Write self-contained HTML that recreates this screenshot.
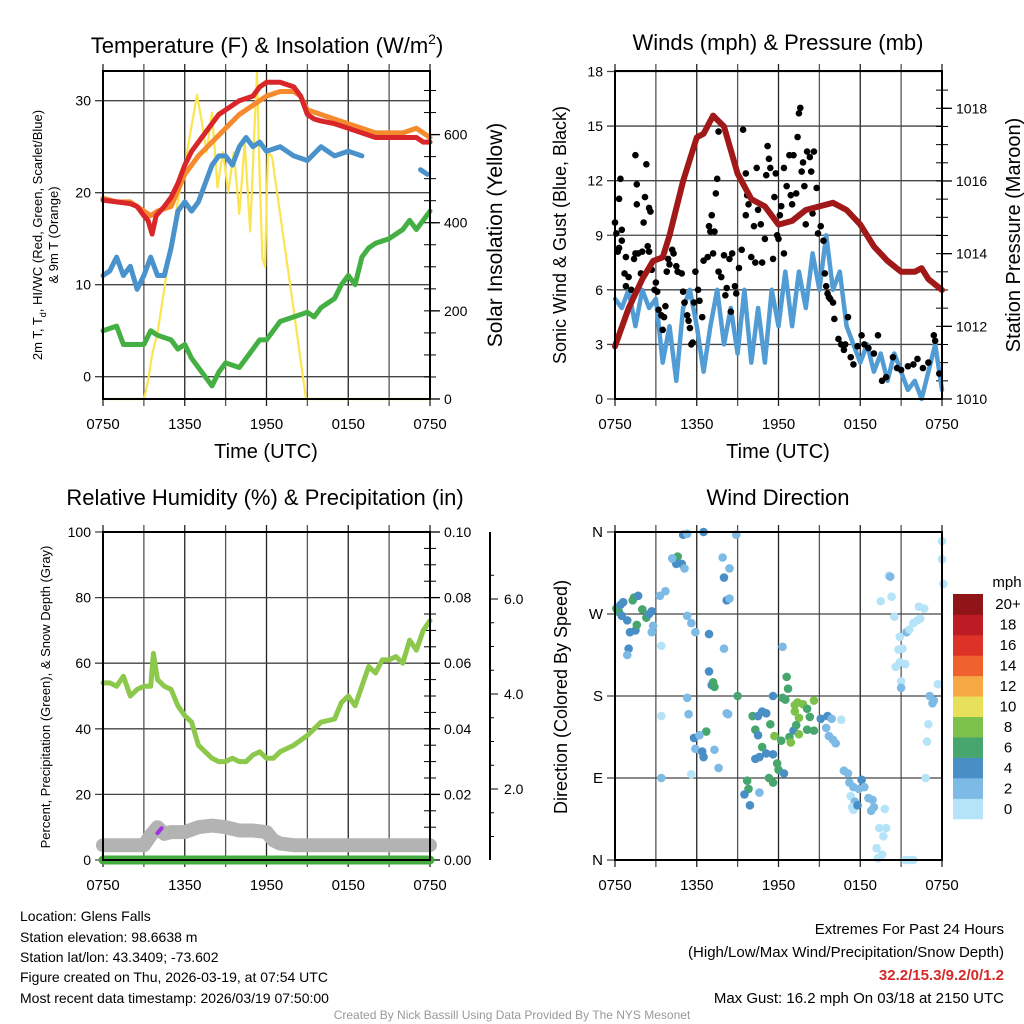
<!DOCTYPE html>
<html><head><meta charset="utf-8"><style>
html,body{margin:0;padding:0;background:#fff}
svg{display:block;font-family:"Liberation Sans",sans-serif}
</style></head><body>
<svg id="fig" width="1024" height="1024" viewBox="0 0 1024 1024" xmlns="http://www.w3.org/2000/svg">
<rect width="1024" height="1024" fill="#fff"/>
<g id="layer"></g>
<g font-size="22" text-anchor="middle" fill="#000">
<text x="267" y="53">Temperature (F) &amp; Insolation (W/m<tspan dy="-9" font-size="14">2</tspan><tspan dy="9">)</tspan></text>
<text x="778" y="50">Winds (mph) &amp; Pressure (mb)</text>
<text x="265" y="505">Relative Humidity (%) &amp; Precipitation (in)</text>
<text x="778" y="505">Wind Direction</text>
</g>
<g font-size="20" text-anchor="middle">
<text x="266" y="458">Time (UTC)</text>
<text x="778" y="458">Time (UTC)</text>
</g>
<g text-anchor="middle">
<text transform="translate(42,235) rotate(-90)" font-size="13">2m T, T<tspan dy="4" font-size="9">d</tspan><tspan dy="-4">, HI/WC (Red, Green, Scarlet/Blue)</tspan></text>
<text transform="translate(58,235) rotate(-90)" font-size="13">&amp; 9m T (Orange)</text>
<text transform="translate(502,235) rotate(-90)" font-size="21">Solar Insolation (Yellow)</text>
<text transform="translate(566,235) rotate(-90)" font-size="18">Sonic Wind &amp; Gust (Blue, Black)</text>
<text transform="translate(1020,235) rotate(-90)" font-size="20">Station Pressure (Maroon)</text>
<text transform="translate(50,697) rotate(-90)" font-size="13">Percent, Precipitation (Green), &amp; Snow Depth (Gray)</text>
<text transform="translate(567,697) rotate(-90)" font-size="18">Direction (Colored By Speed)</text>
</g>
<g font-size="14">
<text x="20" y="921">Location: Glens Falls</text>
<text x="20" y="942">Station elevation: 98.6638 m</text>
<text x="20" y="962">Station lat/lon: 43.3409; -73.602</text>
<text x="20" y="982">Figure created on Thu, 2026-03-19, at 07:54 UTC</text>
<text x="20" y="1003">Most recent data timestamp: 2026/03/19 07:50:00</text>
</g>
<g font-size="15" text-anchor="end">
<text x="1004" y="934">Extremes For Past 24 Hours</text>
<text x="1004" y="957">(High/Low/Max Wind/Precipitation/Snow Depth)</text>
<text x="1004" y="980" fill="#d42a2a" font-weight="bold">32.2/15.3/9.2/0/1.2</text>
<text x="1004" y="1003">Max Gust: 16.2 mph On 03/18 at 2150 UTC</text>
</g>
<text x="512" y="1019" font-size="12" fill="#999" text-anchor="middle">Created By Nick Bassill Using Data Provided By The NYS Mesonet</text>
</svg>
<script>
// ---------- data ----------
const xTickLabels = ["0750","1350","1950","0150","0750"];
const tempTicks = [0,10,20,30];
const solarTicks = [0,200,400,600];
const windTicks = [0,3,6,9,12,15,18];
const presTicks = [1010,1012,1014,1016,1018];
const rhTicks = [0,20,40,60,80,100];
const precipTicks = ["0.00","0.02","0.04","0.06","0.08","0.10"];
const snowTicks = ["2.0","4.0","6.0"];
const dirTicks = ["N","E","S","W","N"];
const cbLabels = ["0","2","4","6","8","10","12","14","16","18","20+"];

const redT = [0,1,2,2.5,3,3.3,3.6,3.9,4.5,5,5.5,6,6.5,7,7.5,8,8.5,9,10,11,11.5,12,13,14,14.5,15,15.5,16,17,18,19,20,21,22,23,23.5,24];
const redV = [19.2,19,18.8,18.5,17.5,17,15.5,17.5,18.5,19.5,21,23,24.5,25.5,26.5,27.5,28.5,29,30,30.5,31.5,32,32,31.5,30.5,28.5,28,27.8,27.5,27,26.5,26,26,26,26,25.5,25.5];
const orangeT = [0,1,2,3,3.5,4,5,6,7,8,9,10,11,12,13,14,14.5,15,16,17,18,19,20,21,22,23,24];
const orangeV = [19.4,19,19,18,17.5,18,18.5,22,24,25.5,27,28.5,29.5,30.5,31,31,30.5,29,28.5,28,27.5,27,26.5,26.5,26.5,27,26];
const blueT = [0,0.5,1,1.5,2,2.5,3,3.5,4,4.5,5,5.5,6,6.5,7,7.5,8,8.5,9,9.5,10,10.5,11,11.5,12,13,14,15,16,17,18,19,null,23.3,23.8];
const blueV = [11,11.5,13,11,12,9.5,11,13,11,11,14,18,19,18,19,21,23,24,24,23,25,26,25,25.5,24.5,25,24,23.5,25,24,24.5,24,null,22.5,22];
const dewT = [0,1,1.5,2,3,3.5,4,5,5.5,6,6.5,7,7.5,8,8.5,9,10,11,11.5,12,12.5,13,14,15,15.5,16,17,17.5,18,18.5,19,19.5,20,21,22,22.5,23,24];
const dewV = [5,5.5,3.5,3.5,3.5,5,4.5,4,3,3.5,2,1,0,-1,0.5,1.5,1,3,4,4,5,6,6.5,7,6.5,7.5,8.5,10,11,10,13,14,14.5,15,16,17,16,18];
const solarT = [0,3,3.3,3.6,4,4.5,5,5.5,6,6.5,6.9,7.3,7.6,8,8.4,8.8,9.2,9.6,10,10.4,10.8,11.1,11.3,11.5,11.7,11.9,12.1,12.4,13,14,14.9,24];
const solarV = [0,0,40,100,150,250,350,450,530,620,690,620,560,650,480,560,470,560,420,580,380,600,740,500,320,300,560,550,420,200,0,0];

const gustPts = [[0,9.7],[0.1,9.1],[0.2,8.1],[0.3,8.3],[0.3,11],[0.4,12.1],[0.5,8.7],[0.5,9.3],[0.7,6.9],[0.8,7.8],[0.8,6.2],[1.0,6.7],[1.2,6.0],[1.4,7.7],[1.5,8],[1.5,13.4],[1.6,11.8],[1.6,10.7],[1.7,8],[1.9,6.9],[2.0,8.1],[2.1,9.7],[2.2,11.1],[2.3,12.9],[2.4,8.4],[2.5,8.1],[2.5,10.5],[2.6,10.3],[2.7,7.1],[2.9,6],[3.0,6.4],[3.1,5.9],[3.2,4.9],[3.4,4.6],[3.5,3.8],[3.6,4.5],[3.7,5.1],[3.8,7],[3.9,7.7],[4.0,7.4],[4.2,8.2],[4.3,8],[4.5,7.3],[4.6,7],[4.9,6.9],[5.0,5.9],[5.1,5.3],[5.3,4.6],[5.4,4.3],[5.5,3.9],[5.6,3],[5.7,3.1],[5.8,5.3],[5.9,7],[6.1,6],[6.2,5.4],[6.4,4.5],[6.5,7.6],[6.8,7.8],[6.9,9.5],[7.0,9.2],[7.1,10.1],[7.2,8],[7.3,9.2],[7.4,11.3],[7.5,12.1],[7.6,14.7],[7.6,7],[7.8,6.7],[8.0,7.9],[8.1,5.7],[8.2,6.1],[8.4,7.7],[8.5,4.8],[8.6,8],[8.8,6.2],[8.9,5.8],[9.1,7.2],[9.3,8.2],[9.4,14.8],[9.6,12.4],[9.6,10.1],[9.7,11.2],[9.8,10.7],[10.0,7.8],[10.2,9.5],[10.3,7.5],[10.4,12.7],[10.5,10.4],[10.7,9.6],[10.8,7.5],[11.0,8.8],[11.1,12.3],[11.2,13.9],[11.3,13.2],[11.4,12.7],[11.6,7.7],[11.7,11.1],[11.8,12.4],[11.9,9],[12.0,8.8],[12.1,10.1],[12.2,10.6],[12.4,12.7],[12.4,8],[12.6,11.7],[12.8,13.4],[12.9,11.2],[13.0,10.7],[13.1,13.4],[13.3,11.3],[13.4,14.4],[13.5,15.7],[13.6,16],[13.7,12.5],[13.8,13],[13.9,11.7],[14.0,9.6],[14.1,13.6],[14.3,13.3],[14.4,12.5],[14.5,10.2],[14.6,13.6],[14.8,11.6],[14.9,9.1],[15.1,9.5],[15.3,8.7],[15.4,6.9],[15.5,6.2],[15.6,5.8],[15.7,5.6],[15.8,5.5],[16.0,5.3],[16.1,4.4],[16.4,3.3],[16.6,3],[16.8,2.7],[16.9,3],[17.1,4.5],[17.3,2.3],[17.5,1.9],[17.8,2.9],[18.1,3.5],[18.3,3],[18.6,2.8],[19.0,2.5],[19.3,3.5],[19.6,1],[19.9,1.2],[20.4,2.3],[20.7,1.7],[21.0,1.6],[21.5,1.8],[21.9,1.9],[22.2,2.2],[22.6,1.7],[23.0,2],[23.4,3.5],[23.5,3.2],[23.8,1.4]];
const windT = [0,0.5,1,1.5,2,2.5,3,3.5,4,4.5,5,5.5,6,6.5,7,7.5,8,8.5,9,9.5,10,10.5,11,11.5,12,12.5,13,13.5,14,14.5,15,15.5,16,16.5,17,17.5,18,18.5,19,19.5,20,20.5,21,21.5,22,22.5,23,23.5,24];
const windV = [5.5,5,6,4,6,5,5.5,2,4,1,5,6,4,1.5,4,6,3,5,2.5,6,2,5,2,6,4,7,4,7,5,8,6,9,6,7,4,3,2,3,1.5,2.5,1,2.5,1.5,0.5,1,0,1.5,3,0.5];
const presT = [0,1,2,2.8,3.5,4,5,6,6.5,7.2,8,9,10,11,12,13,14,15,16,17,18,19,20,21,22,22.5,23,24];
const presV = [1011.45,1012.5,1013.3,1013.8,1013.9,1014.5,1016,1017.2,1017.3,1017.8,1017.5,1016.2,1015.5,1015.3,1014.8,1014.9,1015.2,1015.3,1015.4,1015.2,1014.8,1014.2,1013.8,1013.5,1013.5,1013.6,1013.3,1013];

const rhT = [0,0.5,1,1.5,2,2.5,3,3.5,3.7,4,4.5,5,5.5,6,6.5,7,7.5,8,8.5,9,9.5,10,10.5,11,11.5,12,12.5,13,14,15,15.5,16,17,17.5,18,18.5,19,19.5,20,20.5,21,21.5,22,22.5,23,23.5,24];
const rhV = [54,54,53,56,50,52,53,53,63,55,53,52,47,44,42,35,33,31,30,30,31,30,30,32,33,31,31,33,35,38,40,42,43,48,50,47,53,59,57,61,61,62,60,67,64,70,73];
const snowT = [0,3,3.5,4,4.5,5,6,7,8,9,10,11,12,12.5,13,14,24];
const snowV = [4.5,4.5,7.5,10,8,8.5,8.5,10,10.5,10,9,9,8.5,6,5,4.5,4.5];
const precipT = [0,24];
const precipV = [0,0];

const dirPts = [[0.1,276,6],[0.3,272,6],[0.4,280,4],[0.6,283,4],[0.5,268,4],[0.9,263,4],[1.3,285,6],[1.4,288,6],[1.7,290,4],[1.5,252,4],[1.1,250,4],[1.0,232,4],[0.9,225,2],[1.6,258,6],[2.0,275,6],[2.3,266,6],[2.5,270,4],[2.7,273,4],[2.8,257,2],[2.7,250,2],[3.3,290,2],[3.7,295,2],[3.4,235,0],[4.3,330,6],[4.6,333,6],[4.5,325,4],[4.2,331,2],[4.9,325,4],[5.1,320,2],[5.0,357,4],[5.3,358,2],[6.5,360,4],[8.9,357,2],[7.9,332,2],[8.4,320,2],[8.0,310,4],[8.2,285,4],[8.4,287,2],[5.3,268,2],[5.6,260,2],[5.9,250,2],[6.9,248,4],[8.0,232,2],[6.9,207,4],[7.1,192,4],[7.2,195,6],[7.3,190,6],[9.0,180,6],[5.3,178,2],[5.4,160,2],[3.4,158,0],[6.7,141,6],[5.8,134,4],[6.2,137,2],[5.9,122,2],[6.4,119,4],[6.5,113,4],[7.3,121,2],[8.2,161,2],[8.3,160,2],[7.6,101,2],[5.6,94,0],[3.4,90,2],[10.1,158,6],[10.5,158,4],[10.3,143,6],[10.5,137,4],[11.4,149,6],[11.1,161,4],[10.8,163,4],[10.8,124,6],[10.6,113,4],[10.3,111,4],[11.1,117,4],[11.6,116,4],[11.7,136,8],[12.2,131,6],[11.9,106,6],[12.0,99,6],[12.4,95,4],[11.6,85,6],[11.3,90,6],[9.7,87,6],[9.8,78,6],[10.6,74,2],[9.5,72,4],[9.9,60,4],[11.6,180,4],[12.3,178,6],[12.6,201,6],[12.7,188,6],[12.5,176,6],[13.2,170,8],[13.4,173,8],[13.8,171,8],[13.2,163,8],[13.5,156,8],[14.1,166,6],[14.6,175,8],[14.3,157,6],[13.1,142,4],[13.3,148,6],[13.5,138,8],[12.8,135,6],[12.9,129,8],[14.1,143,6],[14.6,142,6],[15.1,155,4],[15.6,158,4],[15.9,155,2],[15.5,145,2],[15.7,136,2],[16.0,132,2],[16.2,128,2],[16.6,154,0],[12.3,234,2],[16.8,98,2],[17.1,95,2],[17.2,85,2],[17.5,80,2],[17.9,78,2],[18.1,88,4],[18.3,80,2],[17.3,70,0],[17.6,64,2],[17.4,58,0],[17.5,55,0],[17.8,60,4],[18.6,68,2],[18.9,66,2],[19.0,58,2],[18.8,54,2],[19.8,56,0],[19.4,35,0],[19.9,35,0],[19.7,26,0],[19.2,13,0],[19.6,6,0],[19.3,2,0],[21.3,0,0],[21.6,0,0],[21.9,0,0],[19.5,284,0],[20.1,312,0],[20.2,311,2],[20.3,289,0],[20.5,267,0],[20.9,245,0],[21.1,232,0],[21.4,250,2],[21.6,253,0],[21.9,260,0],[22.2,263,0],[22.4,265,0],[22.7,276,0],[22.3,278,0],[20.8,231,0],[20.9,217,0],[21.3,215,0],[21.0,196,0],[20.6,212,0],[21.0,189,2],[23.7,193,0],[23.3,172,2],[23.4,175,2],[23.1,180,2],[23.0,149,0],[22.9,130,0],[22.8,90,0],[24.0,350,0],[24.0,330,0],[24.1,303,0]];
const speedColors = ["#b5e3f8","#7dbae5","#4a8ec6","#47a66e","#7cc24a","#e7e05a","#f6a845","#ef622d","#dc3228","#bd1c24","#8f1519"];

// ---------- drawing ----------
const NS = "http://www.w3.org/2000/svg";
const layer = document.getElementById('layer');
function mk(tag, attrs, parent){
  const e = document.createElementNS(NS, tag);
  for (const k in attrs) e.setAttribute(k, attrs[k]);
  (parent||layer).appendChild(e);
  return e;
}
function lin(d0,d1,r0,r1){ return v => r0 + (v-d0)/(d1-d0)*(r1-r0); }

const panels = {
  temp:{x0:103,x1:430,y0:71,y1:399},
  wind:{x0:615,x1:942,y0:71,y1:399},
  rh:{x0:103,x1:430,y0:532,y1:860},
  dir:{x0:615,x1:942,y0:532,y1:860}
};
const xs = {};
for (const k in panels){ const p = panels[k]; xs[k] = lin(0,24,p.x0,p.x1); }

const yTemp = lin(0,30,376.7,100.7);
const ySolar = lin(0,600,399,134.6);
const yWind = lin(0,18,399,71.5);
const yPres = lin(1010,1018,399,108.3);
const yRh = lin(0,100,860,532);
const yDir = lin(0,360,860,532);

function frame(key, name){
  const p = panels[key], x = xs[key];
  const g = mk('g', {});
  
  
  for (let i=0;i<=8;i++){
    const xx = x(i*3);
    const l = mk('line',{x1:xx,x2:xx,y1:p.y0-7,y2:p.y1+7,stroke:(i%2?'#555':'#222'),'stroke-width':1.3}, g);
    
    
  }
  for (let i=0;i<5;i++){
    const t = mk('text',{x:x(i*6),y:p.y1+30,'font-size':15,'text-anchor':'middle'}, g);
    t.textContent = xTickLabels[i];
    
    
  }
  return g;
}
function hgrid(key, name, vals, yf, labels, ext){
  const p = panels[key];
  for (let i=0;i<vals.length;i++){
    const yy = yf(vals[i]);
    const l = mk('line',{x1:p.x0-8,x2:p.x1+(ext||0),y1:yy,y2:yy,stroke:'#444','stroke-width':1.3});
    
    
    const t = mk('text',{x:p.x0-12,y:yy+5,'font-size':key==='dir'?15:14,'text-anchor':'end'});
    t.textContent = labels ? labels[i] : vals[i];
    
    
  }
}
function rightAxis(key, name, vals, yf, labels, minorStep, lo, hi){
  const p = panels[key];
  for (let v=lo; v<=hi+1e-9; v+=minorStep){
    const yy = yf(v);
    if (yy < p.y0-1 || yy > p.y1+1) continue;
    const l = mk('line',{x1:p.x1-6,x2:p.x1+6,y1:yy,y2:yy,stroke:'#000','stroke-width':1});
    
    
  }
  for (let i=0;i<vals.length;i++){
    const yy = yf(vals[i]);
    const l = mk('line',{x1:p.x1,x2:p.x1+10,y1:yy,y2:yy,stroke:'#000','stroke-width':1.3});
    
    
    const t = mk('text',{x:p.x1+14,y:yy+5,'font-size':14});
    t.textContent = labels ? labels[i] : vals[i];
    
    
  }
}
function box(key, name){
  const p = panels[key];
  const r = mk('rect',{x:p.x0,y:p.y0,width:p.x1-p.x0,height:p.y1-p.y0,fill:'none',stroke:'#000','stroke-width':2});
  
  
}
function pathFrom(T, V, xf, yf){
  let d = '', pen = false;
  for (let i=0;i<T.length;i++){
    if (T[i]===null || V[i]===null){ pen=false; continue; }
    d += (pen?'L':'M') + xf(T[i]).toFixed(1) + ',' + yf(V[i]).toFixed(1);
    pen = true;
  }
  return d;
}
function line(T,V,xf,yf,color,w,name){
  const e = mk('path',{d:pathFrom(T,V,xf,yf),fill:'none',stroke:color,'stroke-width':w,'stroke-linejoin':'round','stroke-linecap':'round'});
  
  
  return e;
}

// Panel 1
frame('temp','temp');
hgrid('temp','temp',tempTicks,yTemp);
rightAxis('temp','solar',solarTicks,ySolar,null,50,0,750);
line(solarT,solarV,xs.temp,ySolar,'#fbe44e',2.2,'solar-insolation-line');
line(dewT,dewV,xs.temp,yTemp,'#44b043',5,'dewpoint-line');
line(blueT,blueV,xs.temp,yTemp,'#4a92cc',5,'heat-index-windchill-line');
line(orangeT,orangeV,xs.temp,yTemp,'#f58a2e',5,'temp-9m-line');
line(redT,redV,xs.temp,yTemp,'#d9262a',5,'temp-2m-line');
box('temp','temp');

// Panel 2
frame('wind','wind');
hgrid('wind','wind',windTicks,yWind);
rightAxis('wind','pressure',presTicks,yPres,null,0.5,1010,1018.8);
line(windT,windV,xs.wind,yWind,'#519cd5',4.5,'sonic-wind-line');
for (const pt of gustPts){
  const c = mk('circle',{cx:xs.wind(pt[0]),cy:yWind(pt[1]),r:3.3,fill:'#000'});
  
  
}
line(presT,presV,xs.wind,yPres,'#a01818',6,'pressure-line');
box('wind','wind');

// Panel 3
frame('rh','rh');
hgrid('rh','rh',rhTicks,yRh);
rightAxis('rh','precip',[0,20,40,60,80,100],yRh,precipTicks,5,0,100);
line(snowT,snowV,xs.rh,yRh,'#b3b3b3',14,'snow-depth-line');
line([4.0,4.3],[8.2,9.7],xs.rh,yRh,'#a035e0',4,'purple-segment');
line(precipT,precipV,xs.rh,yRh,'#44ac3e',9,'precipitation-line');
line(rhT,rhV,xs.rh,yRh,'#8cc84b',5,'relative-humidity-line');
box('rh','rh');
{
  const sa = mk('line',{x1:490,x2:490,y1:532,y2:860,stroke:'#000','stroke-width':2});
  
  
  const snowY = lin(2,6,789,599);
  for (let v=0.5; v<=6.8; v+=0.5){
    const yy = snowY(v); if (yy<532||yy>860) continue;
    const major = Math.abs(v-Math.round(v/2)*2)<1e-6;
    const tk = mk('line',{x1:490,x2:major?498:494,y1:yy,y2:yy,stroke:'#000','stroke-width':1});
    
    
  }
  snowTicks.forEach((s)=>{
    const t = mk('text',{x:504,y:snowY(parseFloat(s))+5,'font-size':14});
    t.textContent = s;
    
    
  });
}

// Panel 4
frame('dir','dir');
hgrid('dir','dir',[0,90,180,270,360],yDir,dirTicks);
for (const pt of dirPts){
  const idx = Math.min(10, Math.max(0, Math.round(pt[2]/2)));
  const c = mk('circle',{cx:xs.dir(pt[0]),cy:yDir(pt[1]),r:4.3,fill:speedColors[idx]});
  
  
}
box('dir','dir');
{
  const lg = mk('g',{});
  
  
  const h = 225/11;
  for (let i=0;i<11;i++){
    const yy = 819 - (i+1)*h;
    const r = mk('rect',{x:953,y:yy,width:30,height:h+0.3,fill:speedColors[i]}, lg);
    
    
    const t = mk('text',{x:1008,y:yy+h/2+5,'font-size':15,'text-anchor':'middle'}, lg);
    t.textContent = cbLabels[i];
    
    
  }
  const u = mk('text',{x:1007,y:587,'font-size':15,'text-anchor':'middle'}, lg);
  u.textContent = 'mph';
  
  
}
</script>
</body></html>
